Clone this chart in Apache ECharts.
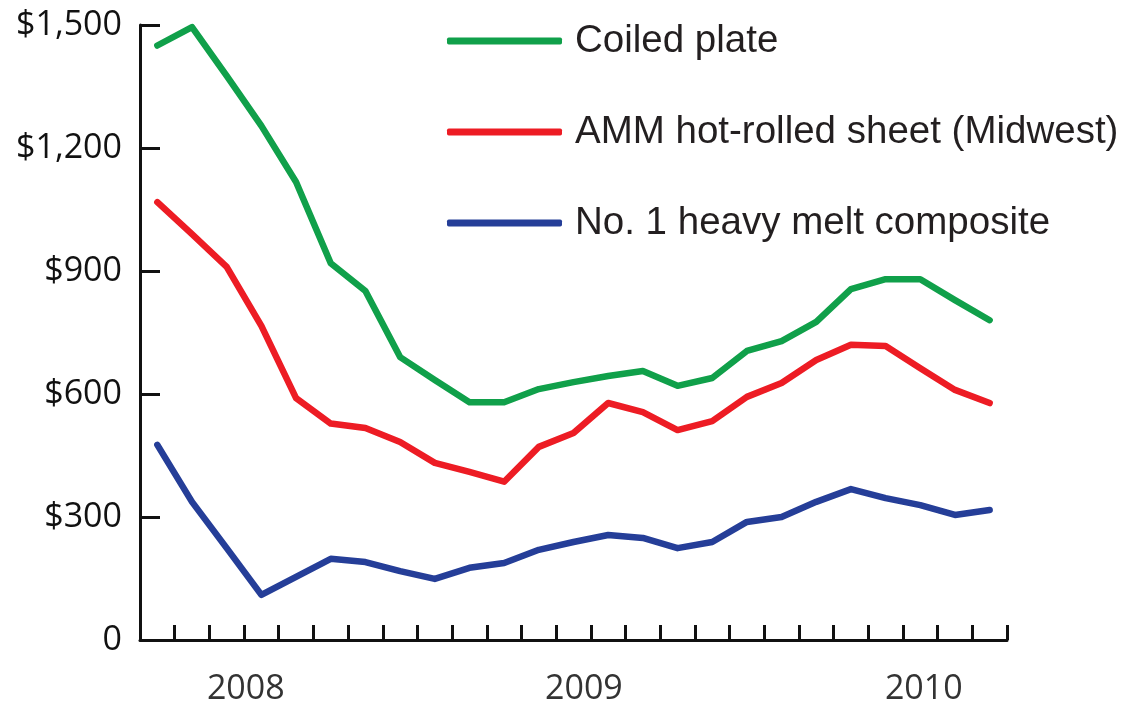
<!DOCTYPE html>
<html>
<head>
<meta charset="utf-8">
<script src="https://cdn.jsdelivr.net/npm/echarts@6/dist/echarts.min.js"></script>
<style>
html,body{margin:0;padding:0;background:#fff;}
#chart{width:1128px;height:710px;}
</style>
</head>
<body>
<div id="chart"></div>
<script>
// Data points (25 periods)
var categories = ['P1','P2','P3','P4','P5','P6','P7','P8','P9','P10','P11','P12','P13','P14','P15','P16','P17','P18','P19','P20','P21','P22','P23','P24','P25'];
var coiledPlate = [1450,1495,1376,1254,1117,919,851,690,634,580,580,612,629,644,656,620,639,705,729,776,856,880,880,829,780];
var hotRolled   = [1068,990,910,766,590,528,517,483,432,410,386,471,505,578,556,512,534,593,627,683,720,717,663,610,578];
var heavyMelt   = [476,337,224,110,154,198,190,168,149,176,188,220,239,256,249,224,239,288,300,337,368,346,329,305,317];
var seriesNames = ['Coiled plate','AMM hot-rolled sheet (Midwest)','No. 1 heavy melt composite'];
var seriesColors = ['#10a04a','#ed1c24','#253e98'];
var yTickLabels = ['0','$300','$600','$900','$1,200','$1,500'];
var yearLabels = ['2008','2009','2010'];
var yearLabelPos = [3.05, 12.8, 22.6]; // position along the period axis (in periods)

var chart = echarts.init(document.getElementById('chart'));
var seriesData = [coiledPlate, hotRolled, heavyMelt];
var option = {
  animation: false,
  backgroundColor: '#ffffff',
  grid: {left: 140, right: 121, top: 25, bottom: 70, containLabel: false},
  legend: {
    orient: 'vertical',
    left: 442,
    top: 16,
    itemWidth: 115,
    itemHeight: 7,
    itemGap: 51,
    icon: 'roundRect',
    data: seriesNames,
    textStyle: {
      fontFamily: 'Liberation Sans',
      fontSize: 38.5,
      lineHeight: 40,
      color: '#231f20',
      padding: [0,0,0,8]
    }
  },
  xAxis: [{
    type: 'category',
    data: categories,
    boundaryGap: true,
    axisLine: {show: true, lineStyle: {color: '#111', width: 3}},
    axisTick: {show: true, inside: true, length: 15, interval: 0, lineStyle: {color: '#111', width: 3}},
    axisLabel: {show: false},
    splitLine: {show: false}
  }, {
    type: 'value',
    position: 'bottom',
    min: 0,
    max: categories.length,
    axisLine: {show: false},
    axisTick: {show: false},
    splitLine: {show: false},
    axisLabel: {
      show: true,
      customValues: yearLabelPos,
      margin: 32,
      fontFamily: 'Open Sans',
      fontSize: 34,
      color: '#333',
      formatter: function (v) {
        var i = yearLabelPos.indexOf(v);
        return i >= 0 ? yearLabels[i] : '';
      }
    }
  }],
  yAxis: {
    type: 'value',
    min: 0,
    max: 1500,
    interval: 300,
    axisLine: {show: true, lineStyle: {color: '#111', width: 3}},
    axisTick: {show: true, inside: true, length: 20, lineStyle: {color: '#111', width: 3}},
    splitLine: {show: false},
    axisLabel: {
      margin: 18,
      fontFamily: 'Open Sans',
      fontSize: 34,
      color: '#111',
      formatter: function (v) { return yTickLabels[Math.round(v / 300)]; }
    }
  },
  series: seriesNames.map(function (n, k) {
    return {
      name: n,
      type: 'line',
      data: seriesData[k],
      symbol: 'none',
      smooth: false,
      color: seriesColors[k],
      lineStyle: {width: 6.5, color: seriesColors[k], join: 'round', cap: 'round'}
    };
  })
};
chart.setOption(option);
</script>
</body>
</html>
